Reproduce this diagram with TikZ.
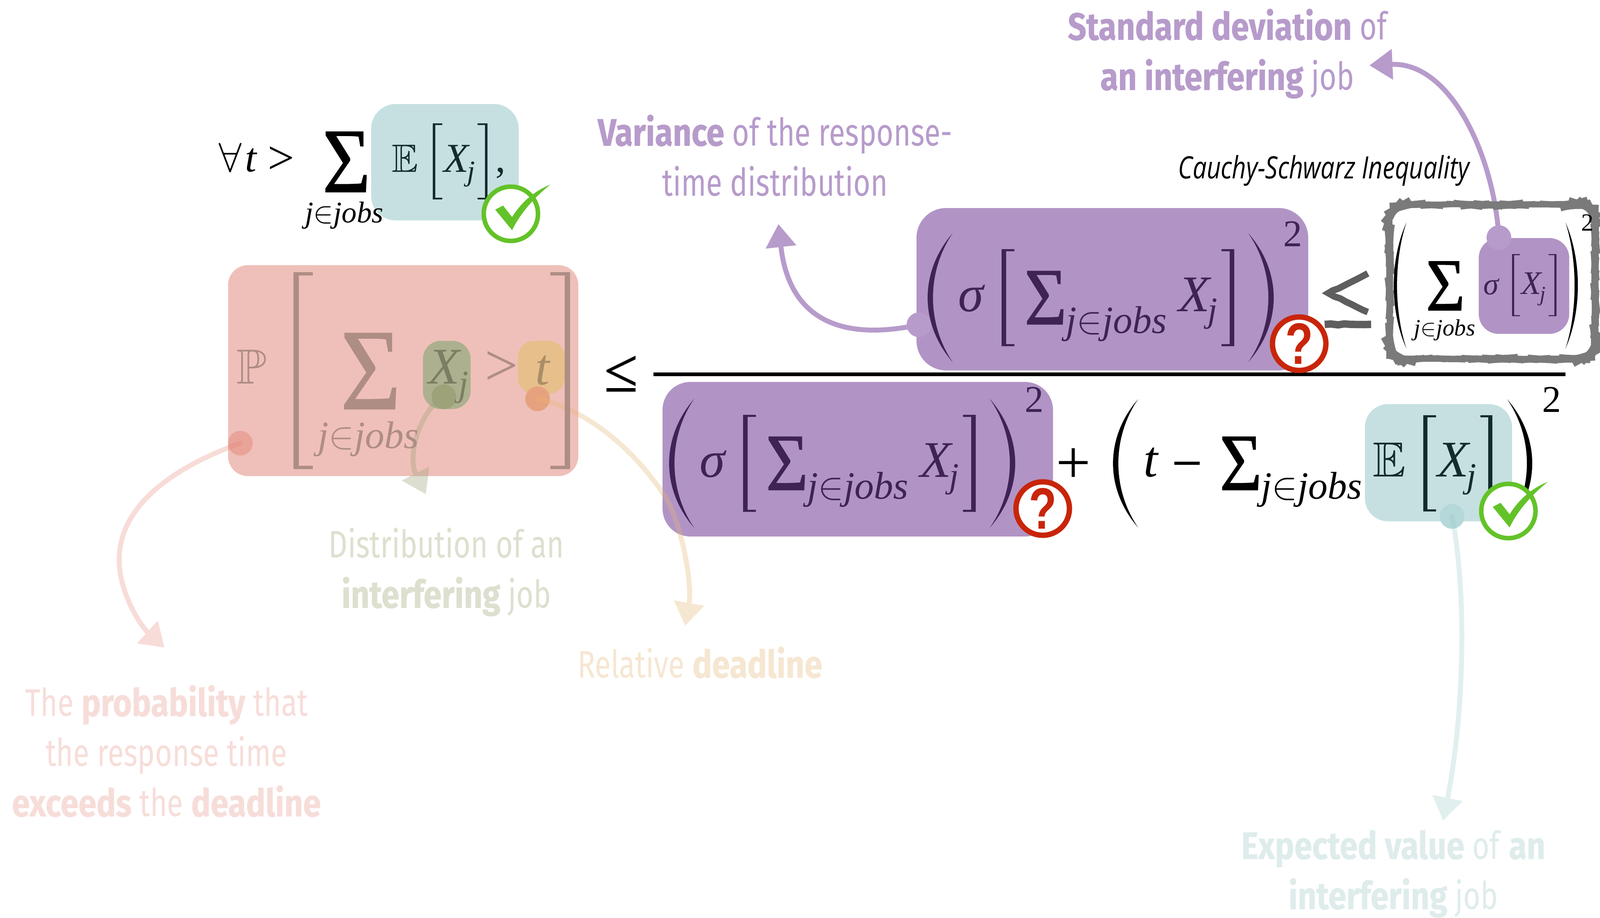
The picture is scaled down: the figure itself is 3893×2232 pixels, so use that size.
\documentclass[tikz,border=0pt]{standalone}
\usepackage{fix-cm}
\usepackage{amssymb}
\usepackage{graphicx}
\usepackage{fontspec}
\setmainfont{Liberation Serif}
\newfontfamily\lab[FakeStretch=0.77,BoldFeatures={FakeStretch=0.85,FakeBold=0.6}]{Fira Sans}
\newfontfamily\cau[FakeStretch=0.8]{Open Sans}
\newfontfamily\qf{Liberation Sans}
\newfontfamily\sg[FakeBold=0.7]{Liberation Serif}
\usetikzlibrary{arrows.meta,decorations.pathmorphing}
\definecolor{pbox}{HTML}{B194C5}
\definecolor{pink}{HTML}{B79BCB}
\definecolor{pdark}{HTML}{3F2356}
\definecolor{tbox}{HTML}{C6E0E1}
\definecolor{tdark}{HTML}{122B2D}
\definecolor{rbox}{HTML}{EFC0B9}
\definecolor{rtext}{HTML}{AE8D85}
\definecolor{gbox}{HTML}{ADB08F}
\definecolor{obox}{HTML}{E6BF8A}
\definecolor{gtxt}{HTML}{7C7D62}
\definecolor{otxt}{HTML}{A98E68}
\definecolor{labr}{HTML}{F7DDD9}
\definecolor{labg}{HTML}{DDE0CF}
\definecolor{labo}{HTML}{F6E7D2}
\definecolor{labt}{HTML}{DFECEC}
\definecolor{okg}{HTML}{63C228}
\definecolor{qred}{HTML}{C8250A}
\definecolor{sk}{HTML}{7A7A7A}
\definecolor{skd}{HTML}{5E5E5E}
\definecolor{ared}{HTML}{E57F71}
\definecolor{agre}{HTML}{9DA279}
\definecolor{aora}{HTML}{E6B775}
\definecolor{atea}{HTML}{9CCDCD}
\tikzset{
 gl/.style={inner sep=0pt,outer sep=0pt,anchor=base},
 curve/.style={line width=3pt,line cap=round},
 tipa/.style={-{Triangle[length=14pt,width=18pt]}},
 dotn/.style={circle,inner sep=0pt,outer sep=0pt,minimum size=15pt},
 labn/.style={inner sep=0pt,outer sep=0pt,anchor=center,align=center},
 qm/.style={circle,draw=qred,fill=white,line width=3.25pt,minimum size=32.5pt,inner sep=0pt},
}
\newcommand\fs[1]{\fontsize{\the\dimexpr#1pt/4\relax}{\the\dimexpr#1pt*3/10\relax}\selectfont}
\newcommand\g[6][]{\node[gl,#1] (#2) at (#3,#4) {\fs{#5}#6};}
\newcommand\bx[6]{\fill[#6,rounded corners=#5pt] (#1,#2) rectangle (#3,#4);}
\newcommand\brk[7]{\pgfmathsetmacro\xs{#1+#5}\pgfmathsetmacro\ya{#3+#6}\pgfmathsetmacro\yb{#4-#6}%
 \fill[#7] (#1,#3) -- (#2,#3) -- (#2,\ya) -- (\xs,\ya) -- (\xs,\yb) -- (#2,\yb) -- (#2,#4) -- (#1,#4) -- cycle;}
\newcommand\prn[6]{\pgfmathsetmacro\ca{(#2-.25*#1)/.75}\pgfmathsetmacro\cb{\ca+#5/.75}%
 \pgfmathsetmacro\ha{#3+(#4-#3)*.3}\pgfmathsetmacro\hb{#3+(#4-#3)*.7}%
 \fill[#6] (#1,#3) .. controls (\ca,\ha) and (\ca,\hb) .. (#1,#4) .. controls (\cb,\hb) and (\cb,\ha) .. (#1,#3) -- cycle;}
\newcommand\jj{\textit{j}$\in$\textit{jobs}}
\newcommand\sgm{\sg\scalebox{.9}[1]{Σ}}
\newcommand\chk[3]{\begin{scope}[shift={(#2,#3)}]
 \node[circle,draw=okg,fill=white,line width=2.75pt,minimum size=33pt,inner sep=0pt] (#1) at (0,0) {};
 \fill[okg] (-38,-10) -- (-19,-20) -- (3,8) .. controls (27,-30) and (57,-55) .. (96,-71)
   .. controls (57,-40) and (22,0) .. (3,40) -- cycle;
 \end{scope}}
\newcommand\sigx[1]{%
 \prn{1689}{1628}{970}{1284}{13}{pdark}\prn{2408}{2470}{970}{1284}{-13}{pdark}
 \brk{1808}{1839}{1009}{1245}{11}{5}{pdark}\brk{2374}{2343}{1009}{1245}{-11}{5}{pdark}
 \begin{scope}[text=pdark]
 \g{#1s}{1735}{1160}{125}{\textit{σ}}
 \g{#1S}{1915}{1192}{198}{\sgm}
 \g{#1u}{2087}{1213}{94}{\jj}
 \g{#1X}{2279}{1160}{125}{\textit{X}}
 \g{#1j}{2321}{1185}{85}{\textit{j}}
 \g{#1q}{2516}{1002}{92}{2}
 \end{scope}}
\begin{document}
\begin{tikzpicture}[x=.25pt,y=-.25pt]
\useasboundingbox (0,0) rectangle (3893,2232);
\fill[white] (0,0) rectangle (3893,2232);
\bx{903}{253}{1262}{536}{15}{tbox}
\bx{555}{645}{1407}{1158}{12}{rbox}
\bx{1029}{829}{1145}{995}{11}{gbox}
\bx{1260}{829}{1374}{958}{10}{obox}
\bx{1612}{929}{2562}{1305}{17}{pbox}
\bx{2230}{506}{3183}{901}{18}{pbox}
\bx{3321}{983}{3679}{1268}{14}{tbox}
\bx{3598}{579}{3818}{812}{12}{pbox}
\node[dotn,fill=ared!45!rbox] (dr) at (585,1078) {};
\node[dotn,fill=agre] (dg) at (1080,965) {};
\node[dotn,fill=ared!45!obox] (dor) at (1308,970) {};
\node[dotn,fill=atea!40!tbox] (dt) at (3533,1256) {};
\node[dotn,fill=pink] (dv) at (2236,790) {};
\node[dotn,fill=pink] (ds) at (3647,578) {};
\coordinate (tr) at (400,1575); \coordinate (tg) at (1036,1202);
\coordinate (tor) at (1667,1522); \coordinate (tt) at (3511,1996);
\coordinate (tv) at (1894,545); \coordinate (ts) at (3332,159);
\coordinate (mr) at (290,1362); \coordinate (mor) at (1620,1210);
\begin{scope}[transparency group,opacity=.27]
 \draw[curve,tipa,draw=ared] (dr.center) .. controls (440,1130) and (290,1220) .. (mr) .. controls (290,1440) and (340,1520) .. (tr);
\end{scope}
\begin{scope}[transparency group,opacity=.35]
 \draw[curve,tipa,draw=agre] (dg.center) .. controls (1020,1000) and (990,1110) .. (tg);
\end{scope}
\begin{scope}[transparency group,opacity=.32]
 \draw[curve,tipa,draw=aora] (dor.center) .. controls (1400,990) and (1520,1060) .. (mor) .. controls (1660,1280) and (1685,1420) .. (tor);
\end{scope}
\begin{scope}[transparency group,opacity=.3]
 \draw[curve,tipa,draw=atea] (dt.center) .. controls (3575,1480) and (3555,1780) .. (tt);
\end{scope}
\draw[curve,tipa,draw=pink] (dv.center) .. controls (2050,830) and (1920,780) .. (tv);
\draw[curve,tipa,draw=pink] (ds.center) .. controls (3635,380) and (3530,150) .. (ts);
\g{fa}{560}{417}{100}{$\forall$}
\g{ft}{611}{417}{100}{\textit{t}}
\g{fg}{684}{422}{115}{>}
\g{fS}{843}{467}{224}{\sgm}
\g{fu}{838}{541}{73}{\jj}
\begin{scope}[text=tdark]
\g{fE}{985}{418}{96}{$\mathbb{E}$}
\g{fX}{1112}{418}{100}{\textit{X}}
\g{fj}{1146}{439}{70}{\textit{j}}
\g{fc}{1218}{418}{100}{,}
\end{scope}
\brk{1053}{1076}{300}{485}{6}{4}{tdark}
\brk{1186}{1162}{300}{485}{-6}{4}{tdark}
\chk{cka}{1243}{520}
\brk{714}{761}{662}{1141}{13}{8}{rtext}
\brk{1387}{1339}{662}{1141}{-13}{8}{rtext}
\begin{scope}[text=rtext]
\g{pP}{612}{933}{120}{$\mathbb{P}$}
\g{pS}{902}{995}{282}{\sgm}
\g{pu}{896}{1090}{94}{\jj}
\g{pg}{1220}{937}{145}{>}
\end{scope}
\g[text=gtxt]{pX}{1083}{933}{125}{\textit{X}}
\g[text=gtxt]{pj}{1128}{962}{88}{\textit{j}}
\g[text=otxt]{pt}{1321}{935}{125}{\textit{t}}
\g{le}{1511}{952}{150}{\sg ≤}
\coordinate (ba) at (1590,910.5); \coordinate (bb) at (3809,910.5);
\draw[line width=2.25pt] (ba) -- (bb);
\sigx{lo}
\begin{scope}[shift={(629,-403)}] \sigx{up} \end{scope}
\node[qm] (qa) at (2537,1237) {};
\node[inner sep=0pt,text=qred] (qat) at (2537,1237) {\fs{142}\qf\bfseries\scalebox{.78}[1]{?}};
\node[qm] (qb) at (3161,836) {};
\node[inner sep=0pt,text=qred] (qbt) at (3161,836) {\fs{142}\qf\bfseries\scalebox{.78}[1]{?}};
\g{pl}{2612}{1175}{150}{+}
\prn{2769}{2708}{971}{1283}{13}{black}
\prn{3667}{3728}{971}{1283}{-13}{black}
\g{dt}{2801}{1159}{125}{\textit{t}}
\g{dm}{2888}{1170}{130}{\sg −}
\g{dS}{3019}{1192}{198}{\sgm}
\g{du}{3191}{1213}{94}{\jj}
\g{dq}{3775}{1002}{92}{2}
\begin{scope}[text=tdark]
\g{dE}{3380}{1159}{120}{$\mathbb{E}$}
\g{dX}{3538}{1159}{125}{\textit{X}}
\g{dj}{3580}{1185}{85}{\textit{j}}
\end{scope}
\brk{3463}{3494}{1010}{1244}{10}{5}{tdark}
\brk{3631}{3602}{1010}{1244}{-10}{5}{tdark}
\chk{ckb}{3670}{1243}
\draw[line width=4pt,draw=skd,decorate,decoration={random steps,segment length=4pt,amplitude=.3pt}]
  (3328,665) -- (3232,713) -- (3328,759);
\draw[line width=4.5pt,draw=skd,decorate,decoration={random steps,segment length=4pt,amplitude=.3pt}]
  (3223,789) -- (3336,789);
\draw[line width=3.5pt,draw=sk,rounded corners=11pt,decorate,decoration={random steps,segment length=4pt,amplitude=.4pt}]
  (3381,498) rectangle (3881,873);
\prn{3422}{3391}{541}{848}{8}{black}
\prn{3809}{3839}{541}{848}{-8}{black}
\g{rq}{3862}{561}{60}{2}
\g{rS}{3517}{755}{182}{\sgm}
\g{ru}{3515}{816}{57}{\jj}
\begin{scope}[text=pdark]
\g{rs}{3629}{716}{75}{\textit{σ}}
\g{rX}{3727}{715}{80}{\textit{X}}
\g{rj}{3754}{732}{52}{\textit{j}}
\end{scope}
\brk{3679}{3698}{618}{769}{5}{2.5}{pdark}
\brk{3787}{3768}{618}{769}{-5}{2.5}{pdark}
\node[labn,text=pink,font=\lab\fontsize{23.25pt}{30.5pt}\selectfont] (ls) at (2986,133.5) {\strut\textbf{Standard deviation} of\\\strut\textbf{an interfering} job};
\node[labn,text=pink,font=\lab\fontsize{23.25pt}{30.5pt}\selectfont] (lv) at (1886,391) {\strut\textbf{Variance} of the response-\\\strut time distribution};
\node[labn,text=labg,font=\lab\fontsize{23.25pt}{30.5pt}\selectfont] (lg) at (1086,1393) {\strut Distribution of an\\\strut\textbf{interfering} job};
\node[labn,text=labo,font=\lab\fontsize{23.25pt}{30.5pt}\selectfont] (lo) at (1703,1624) {\strut Relative \textbf{deadline}};
\node[labn,text=labr,font=\lab\fontsize{23.25pt}{30.5pt}\selectfont] (lr) at (405,1839.5) {\strut The \textbf{probability} that\\\strut the response time\\\strut\textbf{exceeds} the \textbf{deadline}};
\node[labn,text=labt,font=\lab\fontsize{23.25pt}{30.5pt}\selectfont] (lt) at (3390,2126) {\strut\textbf{Expected value} of \textbf{an}\\\strut\textbf{interfering} job};
\node[gl,anchor=base,font=\cau\itshape\fontsize{18.75pt}{22pt}\selectfont] (lc) at (3221,434) {Cauchy-Schwarz Inequality};
\end{tikzpicture}
\end{document}
